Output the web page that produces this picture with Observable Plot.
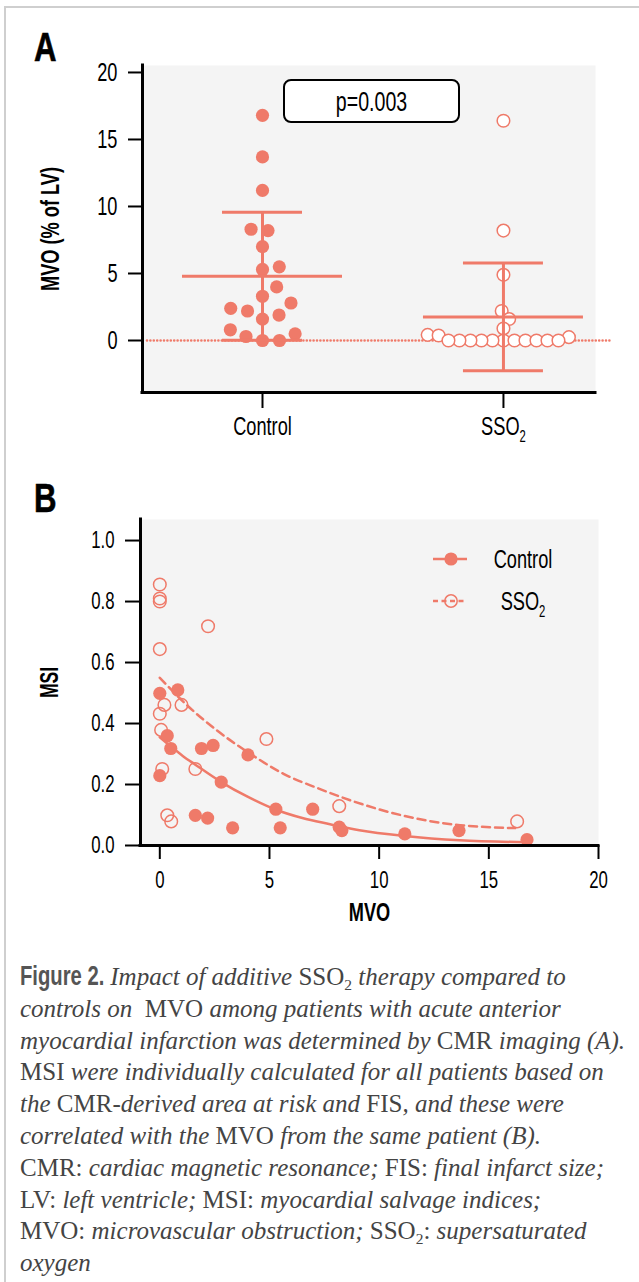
<!DOCTYPE html>
<html>
<head>
<meta charset="utf-8">
<script src="https://cdn.jsdelivr.net/npm/d3@7"></script>
<script src="https://cdn.jsdelivr.net/npm/@observablehq/plot@0.6"></script>
<style>
  html, body { margin: 0; padding: 0; background: #fff; }
  #page { position: relative; width: 639px; height: 1282px; overflow: hidden; background: #fff; }
  .border-top { position: absolute; left: 4px; top: 6px; width: 640px; height: 2px; background: #cfcfcf; }
  .border-left { position: absolute; left: 4px; top: 6px; width: 2px; height: 1280px; background: #cfcfcf; }
  .panel-label { position: absolute; left: 34px; font-family: "Liberation Sans", Arial, sans-serif; font-weight: bold; font-size: 40px; line-height: 40px; color: #000; transform: scaleX(0.78); transform-origin: 0 0; -webkit-text-stroke: 0.6px #000; }
  #chartA { position: absolute; left: 0; top: 0; }
  #chartB { position: absolute; left: 0; top: 450px; }
  .caption { position: absolute; left: 20px; top: 961px; font-family: "Liberation Serif", "DejaVu Serif", serif; font-size: 25px; line-height: 31.8px; color: #444; white-space: nowrap; }
  .caption .fig { display: inline-block; font-family: "Liberation Sans", Arial, sans-serif; font-weight: bold; font-size: 27px; color: #555; transform: scaleX(0.75); transform-origin: 0 50%; width: 84px; }
  .caption sub { font-size: 0.62em; vertical-align: -0.35em; line-height: 0; }
</style>
</head>
<body>
<div id="page">
  <div class="border-top"></div>
  <div class="border-left"></div>
  <div class="panel-label" style="top:27px">A</div>
  <div class="panel-label" style="top:478px">B</div>
  <div id="chartA"></div>
  <div id="chartB"></div>
  <div class="caption">
    <span class="fig">Figure 2.</span> <i>Impact of additive </i>SSO<sub>2</sub><i> therapy compared to</i><br>
    <i>controls on&nbsp; </i>MVO<i> among patients with acute anterior</i><br>
    <i>myocardial infarction was determined by </i>CMR<i> imaging (A).</i><br>
    MSI<i> were individually calculated for all patients based on</i><br>
    <i>the </i>CMR<i>-derived area at risk and </i>FIS<i>, and these were</i><br>
    <i>correlated with the </i>MVO<i> from the same patient (B).</i><br>
    CMR: <i>cardiac magnetic resonance; </i>FIS: <i>final infarct size;</i><br>
    LV: <i>left ventricle; </i>MSI: <i>myocardial salvage indices;</i><br>
    MVO: <i>microvascular obstruction; </i>SSO<sub>2</sub>: <i>supersaturated</i><br>
    <i>oxygen</i>
  </div>
</div>
<script>
// ---------------- DATA ----------------
const groups = ["Control", "SSO₂"];
// Panel A: MVO (% of LV) per patient
const mvoControl = [16.8, 13.7, 11.2, 8.3, 8.2, 7.0, 5.5, 5.3, 4.0, 3.3, 2.8, 2.4, 2.2, 1.9, 1.6, 0.8, 0.5, 0.3, 0, 0];
const mvoSSO2 = [16.4, 8.2, 4.9, 2.2, 1.6, 0.9, 0.42, 0.37, 0.25, 0, 0, 0, 0, 0, 0, 0, 0, 0, 0, 0];
const yTicksA = [0, 5, 10, 15, 20];
const yLabelA = "MVO (% of LV)";
const pLabel = "p=0.003";

// Panel B: MSI vs MVO
const scControlMVO = [0, 0.82, 0.34, 0.5, 0, 1.9, 2.43, 4.02, 2.8, 1.62, 2.18, 3.32, 5.29, 5.49, 6.97, 8.18, 8.3, 11.17, 13.64, 16.74];
const scControlMSI = [0.499, 0.51, 0.36, 0.318, 0.229, 0.318, 0.328, 0.297, 0.208, 0.099, 0.090, 0.058, 0.119, 0.058, 0.119, 0.06, 0.049, 0.038, 0.049, 0.019];
const scSSO2MVO = [0, 0, 0, 2.2, 0, 0.21, 0.99, 0, 0.06, 4.86, 1.62, 0.11, 0.34, 0.52, 8.18, 16.29];
const scSSO2MSI = [0.856, 0.81, 0.80, 0.719, 0.644, 0.461, 0.461, 0.432, 0.379, 0.349, 0.251, 0.251, 0.099, 0.079, 0.129, 0.079];
// fitted curves
const fitControlMVO = [0, 0.5, 1.06, 1.62, 2.8, 4, 5.27, 6.5, 7.76, 9.1, 11.17, 13.67, 16.74];
const fitControlMSI = [0.355, 0.325, 0.293, 0.265, 0.208, 0.16, 0.118, 0.09, 0.07, 0.05, 0.031, 0.017, 0.011];
const fitSSO2MVO = [0, 1.24, 2.61, 4.12, 5.64, 7.2, 8.82, 11.09, 13.36, 16.2];
const fitSSO2MSI = [0.55, 0.46, 0.377, 0.301, 0.235, 0.188, 0.145, 0.098, 0.069, 0.057];
const xTicksB = [0, 5, 10, 15, 20];
const yTicksB = [0, 0.2, 0.4, 0.6, 0.8, 1.0];
const xLabelB = "MVO";
const yLabelB = "MSI";

// ---------------- STYLE ----------------
const COL = "#ef7a69";
const FONT = '"Liberation Sans", Arial, sans-serif';
const CONDENSE = 0.7;

// ---------------- PANEL A ----------------
const A = {width: 639, height: 450, mT: 65, mB: 58, mL: 142, mR: 44, yDom: [-3.88, 20.52], xDom: [-0.498, 1.382]};
const yA = d3.scaleLinear(A.yDom, [A.height - A.mB, A.mT]);
const xA = d3.scaleLinear(A.xDom, [A.mL, A.width - A.mR]);

// simple beeswarm layout (pixel space, bottom-up), converted back to x data units
function swarm(values, gi, D) {
  const order = d3.range(values.length).sort((a, b) => values[a] - values[b]);
  const placed = [];
  const out = new Array(values.length);
  for (const i of order) {
    const y = yA(values[i]);
    const cands = [0];
    for (const p of placed) {
      const dy = Math.abs(p.y - y);
      if (dy < D) { const h = Math.sqrt(D * D - dy * dy); cands.push(p.x + h, p.x - h); }
    }
    const ok = cands.filter(c => placed.every(p => Math.hypot(p.x - c, p.y - y) >= D - 1e-3));
    ok.sort((a, b) => Math.abs(a) - Math.abs(b) || b - a);
    const px = ok[0];
    placed.push({x: px, y});
    out[i] = {group: groups[gi], value: values[i], x: xA.invert(xA(gi) + px)};
  }
  return out;
}
const ptsControl = swarm(mvoControl, 0, 17);
const ptsSSO2 = swarm(mvoSSO2, 1, 11);
const statsA = [mvoControl, mvoSSO2].map((v, g) => ({g, mean: d3.mean(v), sd: d3.deviation(v)}));

const pBox = () => {
  const g = d3.create("svg:g");
  g.append("rect").attr("x", 284).attr("y", 80).attr("width", 175).attr("height", 42).attr("rx", 7)
    .attr("fill", "white").attr("stroke", "black").attr("stroke-width", 2);
  g.append("text").attr("transform", "translate(371.5,111)").attr("text-anchor", "middle")
    .attr("font-size", 28).attr("fill", "black").text(pLabel);
  return g.node();
};

const chartA = Plot.plot({
  width: A.width, height: A.height,
  marginTop: A.mT, marginBottom: A.mB, marginLeft: A.mL, marginRight: A.mR,
  style: {fontFamily: FONT, fontSize: "26px", color: "black", background: "transparent", overflow: "visible"},
  x: {type: "linear", domain: A.xDom, axis: null},
  y: {domain: A.yDom, axis: null},
  marks: [
    Plot.frame({fill: "#f4f4f4", stroke: "none"}),
    Plot.ruleY([0], {stroke: COL, strokeWidth: 2.6, strokeDasharray: "0,3.4", strokeLinecap: "round", insetLeft: 5, insetRight: -15}),
    Plot.dot(ptsSSO2, {x: "x", y: "value", r: 6.3, fill: "white", stroke: COL, strokeWidth: 1.5}),
    Plot.dot(ptsControl, {x: "x", y: "value", r: 6.6, fill: COL, stroke: "none"}),
    Plot.ruleX(statsA, {x: "g", y1: d => d.mean - d.sd, y2: d => d.mean + d.sd, stroke: COL, strokeWidth: 3}),
    Plot.ruleY(statsA, {y: "mean", x1: "g", x2: "g", insetLeft: -80, insetRight: -80, stroke: COL, strokeWidth: 3}),
    Plot.ruleY(statsA, {y: d => d.mean + d.sd, x1: "g", x2: "g", insetLeft: -40, insetRight: -40, stroke: COL, strokeWidth: 3}),
    Plot.ruleY(statsA, {y: d => d.mean - d.sd, x1: "g", x2: "g", insetLeft: -40, insetRight: -40, stroke: COL, strokeWidth: 3}),
    Plot.ruleX([A.xDom[0]], {stroke: "black", strokeWidth: 3, strokeLinecap: "square"}),
    Plot.ruleY([A.yDom[0]], {stroke: "black", strokeWidth: 3, strokeLinecap: "square"}),
    Plot.axisY({ticks: yTicksA, tickSize: 14, tickPadding: 11, strokeWidth: 2, fontSize: 26, label: null}),
    Plot.axisX({ticks: [0, 1], tickFormat: i => groups[i], tickSize: 16, tickPadding: 8, strokeWidth: 2, fontSize: 26, label: null}),
    Plot.text([yLabelA], {frameAnchor: "left", textAnchor: "middle", lineAnchor: "middle", rotate: -90, dx: -92, fontWeight: "bold", fontSize: 26}),
    pBox
  ]
});
document.getElementById("chartA").appendChild(chartA);

// ---------------- PANEL B ----------------
const B = {width: 639, height: 480, mT: 69, mB: 85, mL: 140, mR: 41, xDom: [-0.88, 20], yDom: [0, 1.069]};
const scControl = scControlMVO.map((x, i) => ({mvo: x, msi: scControlMSI[i]}));
const scSSO2 = scSSO2MVO.map((x, i) => ({mvo: x, msi: scSSO2MSI[i]}));
const fitControl = fitControlMVO.map((x, i) => ({mvo: x, msi: fitControlMSI[i]}));
const fitSSO2 = fitSSO2MVO.map((x, i) => ({mvo: x, msi: fitSSO2MSI[i]}));

const legendB = () => {
  const g = d3.create("svg:g").attr("font-size", 26).attr("fill", "black");
  const lx1 = 433, lx2 = 467, cx = 451, tx = 523, y1 = 109, y2 = 151;
  g.append("line").attr("x1", lx1).attr("x2", lx2).attr("y1", y1).attr("y2", y1).attr("stroke", COL).attr("stroke-width", 2.5);
  g.append("circle").attr("cx", cx).attr("cy", y1).attr("r", 6.6).attr("fill", COL);
  g.append("text").attr("transform", `translate(${tx},${y1 + 9})`).attr("text-anchor", "middle").text(groups[0]);
  g.append("line").attr("x1", lx1).attr("x2", lx2).attr("y1", y2).attr("y2", y2).attr("stroke", COL).attr("stroke-width", 2.5).attr("stroke-dasharray", "5,3.5");
  g.append("circle").attr("cx", cx).attr("cy", y2).attr("r", 6.2).attr("fill", "none").attr("stroke", COL).attr("stroke-width", 1.5);
  g.append("text").attr("transform", `translate(${tx},${y2 + 9})`).attr("text-anchor", "middle").text(groups[1]);
  return g.node();
};

const chartB = Plot.plot({
  width: B.width, height: B.height,
  marginTop: B.mT, marginBottom: B.mB, marginLeft: B.mL, marginRight: B.mR,
  style: {fontFamily: FONT, fontSize: "23px", color: "black", background: "transparent", overflow: "visible"},
  x: {domain: B.xDom, axis: null},
  y: {domain: B.yDom, axis: null},
  marks: [
    Plot.frame({fill: "#f4f4f4", stroke: "none"}),
    Plot.line(fitSSO2, {x: "mvo", y: "msi", stroke: COL, strokeWidth: 2.5, strokeDasharray: "8,5", curve: "monotone-x"}),
    Plot.line(fitControl, {x: "mvo", y: "msi", stroke: COL, strokeWidth: 2.5, curve: "monotone-x"}),
    Plot.dot(scSSO2, {x: "mvo", y: "msi", r: 6.3, fill: "none", stroke: COL, strokeWidth: 1.5}),
    Plot.dot(scControl, {x: "mvo", y: "msi", r: 6.6, fill: COL, stroke: "none"}),
    Plot.ruleX([B.xDom[0]], {stroke: "black", strokeWidth: 3, strokeLinecap: "square"}),
    Plot.ruleY([B.yDom[0]], {stroke: "black", strokeWidth: 3, strokeLinecap: "square"}),
    Plot.axisY({ticks: yTicksB, tickFormat: d3.format(".1f"), tickSize: 15, tickPadding: 11, strokeWidth: 2, fontSize: 24, label: null}),
    Plot.axisX({ticks: xTicksB, tickSize: 14, tickPadding: 11, strokeWidth: 2, fontSize: 24, label: null}),
    Plot.text([yLabelB], {frameAnchor: "left", textAnchor: "middle", lineAnchor: "middle", rotate: -90, dx: -91, fontWeight: "bold", fontSize: 25}),
    Plot.text([xLabelB], {frameAnchor: "bottom", textAnchor: "middle", lineAnchor: "middle", dy: 67, fontWeight: "bold", fontSize: 26}),
    legendB
  ]
});
document.getElementById("chartB").appendChild(chartB);

// render "₂" as a lowered small "2" inside SVG texts
function subscriptify(root) {
  root.querySelectorAll("text").forEach(t => {
    if (t.children.length === 0 && t.textContent.includes("₂")) {
      const parts = t.textContent.split("₂");
      t.textContent = "";
      parts.forEach((p, i) => {
        if (p) { const s = document.createElementNS("http://www.w3.org/2000/svg", "tspan"); s.textContent = p; if (i > 0) s.setAttribute("dy", "-0.3em"); t.appendChild(s); }
        if (i < parts.length - 1) {
          const s = document.createElementNS("http://www.w3.org/2000/svg", "tspan");
          s.textContent = "2"; s.setAttribute("font-size", "0.62em"); s.setAttribute("dy", "0.42em");
          t.appendChild(s);
        }
      });
    }
  });
}
// narrow the sans-serif texts horizontally (condensed look) around their anchor
function condense(root, k) {
  const num = v => v != null && /^-?[\d.]+$/.test(String(v).trim());
  root.querySelectorAll("text").forEach(t => {
    let tr = t.getAttribute("transform") || "";
    const x = t.getAttribute("x"), y = t.getAttribute("y");
    if (num(x) || num(y)) {
      tr += ` translate(${num(x) ? x : 0},${num(y) ? y : 0})`;
      if (num(x)) t.removeAttribute("x");
      if (num(y)) t.removeAttribute("y");
    }
    t.setAttribute("transform", (tr + ` scale(${k},1)`).trim());
  });
}
[chartA, chartB].forEach(c => { subscriptify(c); condense(c, CONDENSE); });
</script>
</body>
</html>
